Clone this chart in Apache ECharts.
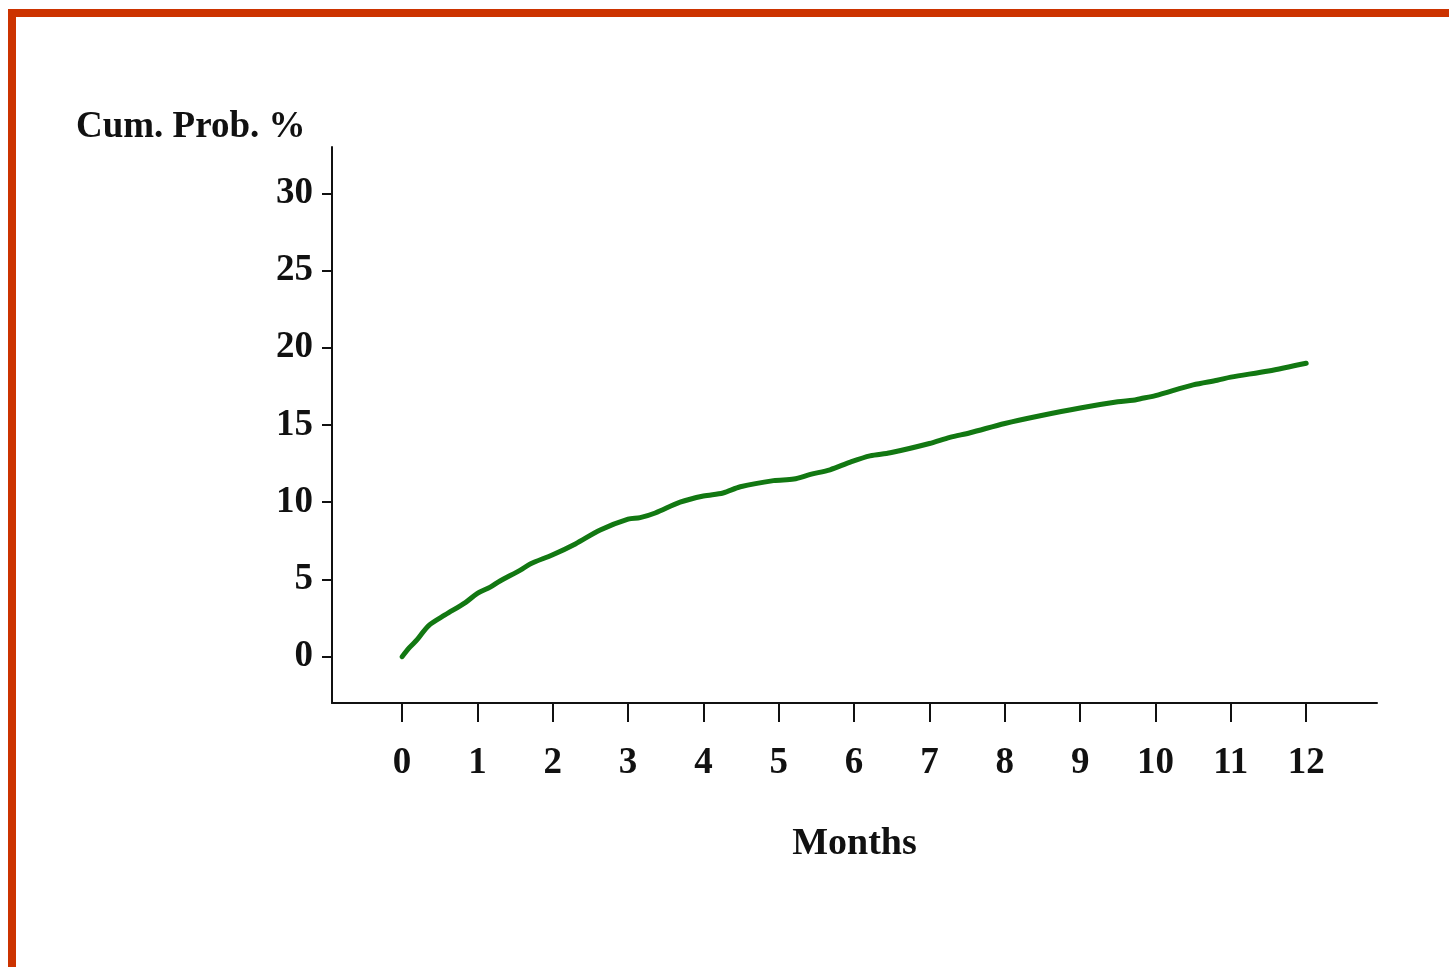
<!DOCTYPE html>
<html>
<head>
<meta charset="utf-8">
<script src="https://cdn.jsdelivr.net/npm/echarts@6/dist/echarts.min.js"></script>
<style>
  html, body { margin: 0; padding: 0; background: #fff; }
  #chart { width: 1449px; height: 967px; }
</style>
</head>
<body>
<div id="chart"></div>
<script>
// months since start (x) and cumulative probability in % (y)
const months = [0, 0.1, 0.2, 0.35, 0.57, 0.84, 1.0, 1.17, 1.3, 1.57, 1.7, 2.0, 2.3, 2.63, 3.0, 3.16, 3.36,
  3.69, 4.0, 4.26, 4.49, 4.93, 5.2, 5.42, 5.68, 5.95, 6.21, 6.48, 7.0, 7.27, 7.54, 8.0, 8.47, 9.0, 9.5, 9.7,
  9.8, 10.0, 10.5, 10.82, 11.0, 11.5, 12.0];
const cumProb = [0, 0.6, 1.1, 2.0, 2.7, 3.5, 4.1, 4.5, 4.9, 5.6, 6.0, 6.6, 7.3, 8.2, 8.9, 9.0, 9.3,
  10.0, 10.4, 10.6, 11.0, 11.4, 11.5, 11.8, 12.1, 12.6, 13.0, 13.2, 13.8, 14.2, 14.5, 15.1, 15.6, 16.1, 16.5, 16.6,
  16.7, 16.9, 17.6, 17.9, 18.1, 18.5, 19.0];
const xTicks = [0, 1, 2, 3, 4, 5, 6, 7, 8, 9, 10, 11, 12];
const yTicks = [0, 5, 10, 15, 20, 25, 30];

const points = months.map((m, i) => [m, cumProb[i]]);
const serif = '"Liberation Serif", "DejaVu Serif", serif';

let myChart = echarts.init(document.getElementById('chart'));

let option = {
    backgroundColor: '#fff',
    animation: false,
    title: {
        text: 'Cum. Prob. %',
        left: 71,
        top: 104,
        textStyle: {
            fontFamily: serif,
            fontWeight: 'bold',
            fontSize: 37,
            color: '#111'
        }
    },
    graphic: [
        // orange frame on the left and top
        {type: 'rect', shape: {x: 8, y: 9, width: 8, height: 958}, style: {fill: '#cc3300'}},
        {type: 'rect', shape: {x: 8, y: 9, width: 1441, height: 8}, style: {fill: '#cc3300'}}
    ],
    grid: {
        left: 332,
        right: 72,
        top: 147,
        bottom: 264,
        containLabel: false
    },
    xAxis: {
        type: 'value',
        min: -0.93,
        max: 12.94,
        name: 'Months',
        nameLocation: 'middle',
        nameGap: 122,
        nameTextStyle: {
            fontFamily: serif,
            fontWeight: 'bold',
            fontSize: 38,
            color: '#111'
        },
        splitLine: {show: false},
        axisLine: {onZero: false, lineStyle: {color: '#111', width: 2}},
        axisTick: {
            customValues: xTicks,
            length: 19,
            lineStyle: {color: '#111', width: 2}
        },
        axisLabel: {
            customValues: xTicks,
            margin: 42,
            fontFamily: serif,
            fontWeight: 'bold',
            fontSize: 37,
            color: '#111'
        }
    },
    yAxis: {
        type: 'value',
        min: -3,
        max: 33,
        splitLine: {show: false},
        axisLine: {show: true, onZero: false, lineStyle: {color: '#111', width: 2}},
        axisTick: {
            show: true,
            customValues: yTicks,
            length: 10,
            lineStyle: {color: '#111', width: 2}
        },
        axisLabel: {
            customValues: yTicks,
            margin: 19,
            fontFamily: serif,
            fontWeight: 'bold',
            fontSize: 37,
            color: '#111'
        }
    },
    series: [
        {
            type: 'line',
            data: points,
            showSymbol: false,
            smooth: 0.3,
            lineStyle: {color: '#127812', width: 5, cap: 'round'}
        }
    ]
};

myChart.setOption(option);
</script>
</body>
</html>
